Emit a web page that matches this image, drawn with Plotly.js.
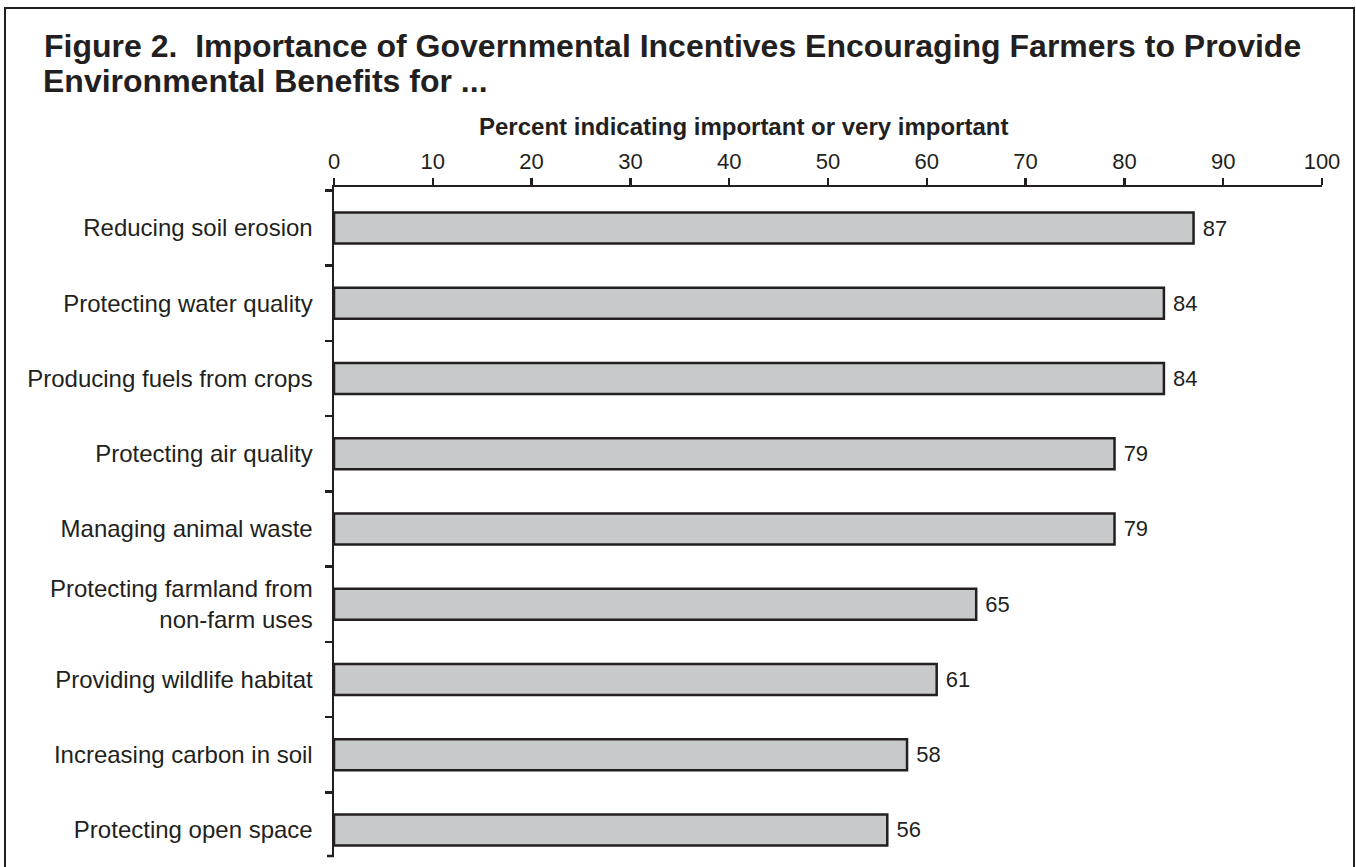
<!DOCTYPE html>
<html>
<head>
<meta charset="utf-8">
<script src="https://cdn.plot.ly/plotly-3.0.1.min.js"></script>
<style>
  html, body { margin: 0; padding: 0; background: #ffffff; overflow: hidden; }
  #chart { width: 1356px; height: 867px; position: relative; }
  #frame { position: absolute; left: 4px; top: 7px; width: 1347px; height: 900px;
           border: 2.5px solid #231f20; border-bottom: none; pointer-events: none; }
</style>
</head>
<body>
<div id="chart"></div>
<div id="frame"></div>
<script>
// ---- data ----
const categories = [
  "Reducing soil erosion",
  "Protecting water quality",
  "Producing fuels from crops",
  "Protecting air quality",
  "Managing animal waste",
  "Protecting farmland from<br>non-farm uses",
  "Providing wildlife habitat",
  "Increasing carbon in soil",
  "Protecting open space"
];
const percentImportant = [87, 84, 84, 79, 79, 65, 61, 58, 56];
const xTickValues = [0, 10, 20, 30, 40, 50, 60, 70, 80, 90, 100];
const titleLine1 = "Figure 2.&nbsp; Importance of Governmental Incentives Encouraging Farmers to Provide";
const titleLine2 = "Environmental Benefits for ...";
const xAxisTitle = "Percent indicating important or very important";

// ---- style ----
const ink = "#231f20";
const FONT = "Liberation Sans, Arial, Helvetica, sans-serif";
const TITLE_SIZE = 32;

const trace = {
  type: "bar",
  orientation: "h",
  x: percentImportant,
  y: categories,
  width: 0.41,
  marker: { color: "#c8c9cb", line: { color: ink, width: 2.5 } },
  text: percentImportant,
  texttemplate: " %{x}",
  textposition: "outside",
  textfont: { family: FONT, size: 22, color: ink },
  cliponaxis: false,
  hoverinfo: "x+y"
};

const layout = {
  width: 1356,
  height: 867,
  paper_bgcolor: "#ffffff",
  plot_bgcolor: "#ffffff",
  margin: { l: 334, r: 34, t: 187, b: 11, pad: 0 },
  showlegend: false,
  font: { family: FONT, color: ink },
  title: {
    text: titleLine1,
    font: { family: FONT, size: TITLE_SIZE, color: ink, weight: 700 },
    xref: "container", x: 44 / 1356, xanchor: "left",
    yref: "container", y: 1 - 46 / 867, yanchor: "middle"
  },
  xaxis: {
    side: "top",
    range: [0, 100],
    tickvals: xTickValues,
    ticktext: xTickValues.map(String),
    showgrid: false,
    zeroline: false,
    showline: true,
    linecolor: ink,
    linewidth: 2.5,
    ticks: "outside",
    ticklen: 7,
    tickwidth: 2.5,
    tickcolor: ink,
    tickfont: { family: FONT, size: 22, color: ink },
    fixedrange: true
  },
  yaxis: {
    type: "category",
    categoryorder: "array",
    categoryarray: categories,
    range: [8.346, -0.545],
    showgrid: false,
    zeroline: false,
    showline: true,
    linecolor: ink,
    linewidth: 2.5,
    ticks: "outside",
    tickson: "boundaries",
    ticklen: 7,
    tickwidth: 2.5,
    tickcolor: ink,
    ticklabelstandoff: 14,
    tickfont: { family: FONT, size: 24, color: ink },
    fixedrange: true
  },
  annotations: [
    {
      text: titleLine2,
      xref: "paper", yref: "paper",
      x: (41 - 334) / 988, y: 1 + (187 - 81) / 669,
      xanchor: "left", yanchor: "middle",
      showarrow: false,
      font: { family: FONT, size: TITLE_SIZE, color: ink, weight: 700 }
    },
    {
      text: xAxisTitle,
      xref: "paper", yref: "paper",
      x: (743 - 334) / 988, y: 1 + (187 - 126) / 669,
      xanchor: "center", yanchor: "middle",
      showarrow: false,
      font: { family: FONT, size: 24, color: ink, weight: 700 }
    }
  ],
  shapes: [{
    type: "line", xref: "paper", yref: "paper",
    x0: -7 / 988, x1: 0, y0: 0, y1: 0,
    line: { color: ink, width: 2.5 }
  }]
};

Plotly.newPlot("chart", [trace], layout, { displayModeBar: false, staticPlot: true });
</script>
</body>
</html>
